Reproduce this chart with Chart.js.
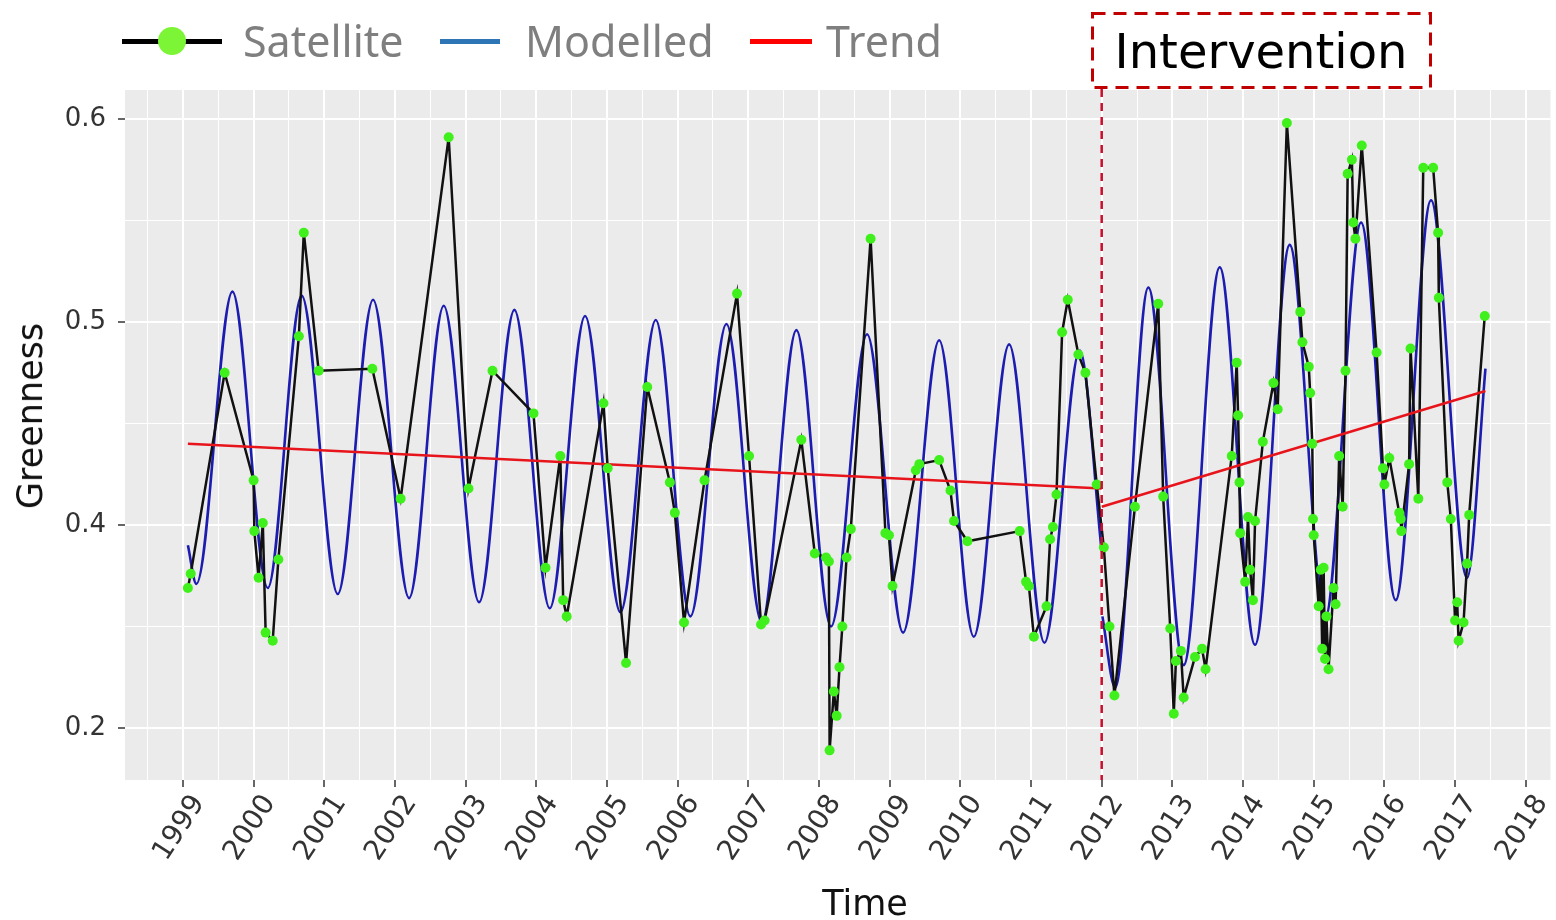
<!DOCTYPE html>
<html>
<head>
<meta charset="utf-8">
<title>Greenness</title>
<script src="https://cdn.jsdelivr.net/npm/chart.js@4.4.1/dist/chart.umd.min.js"></script>
<style>
  body { margin: 0; background: #fff; }
  #wrap { position: relative; width: 1556px; height: 920px; }
  #wrap canvas { position: absolute; left: 0; top: 0; }
  .sym { position: absolute; height: 5px; }
  .dot { position: absolute; width: 28px; height: 28px; border-radius: 50%; background: #7cf536; }
  .lbl { position: absolute; top: 14px; line-height: 54px; font-family: "Noto Sans", sans-serif; font-size: 43px; color: #7f7f7f; }
  #intervention {
    position: absolute; left: 1091px; top: 12px; width: 340px; height: 76px;
    font-family: "DejaVu Sans", sans-serif; font-size: 48px;
    color: #000; text-align: center; line-height: 78px;
  }
  .axt { position: absolute; font-family: "DejaVu Sans", sans-serif; font-size: 35px; color: #111; white-space: nowrap; }
</style>
</head>
<body>
<div id="wrap">
  <canvas id="chart" width="1556" height="920"></canvas>
  <div class="sym" style="left:122px; top:39px; width:100px; background:#000;"></div>
  <div class="dot" style="left:158px; top:27px;"></div>
  <div class="lbl" style="left:243px;">Satellite</div>
  <div class="sym" style="left:440px; top:39px; width:60px; background:#2e75b6;"></div>
  <div class="lbl" style="left:525px;">Modelled</div>
  <div class="sym" style="left:750px; top:39px; width:62px; background:#ff0000;"></div>
  <div class="lbl" style="left:826px;">Trend</div>
  <div id="intervention">Intervention</div>
  <div class="axt" style="left:865px; top:903px; transform: translate(-50%, -50%);">Time</div>
  <div class="axt" style="left:30px; top:416px; transform: translate(-50%, -50%) rotate(-90deg);">Greenness</div>
</div>
<script>
// satellite observations (time in decimal years)
const satYears = [
  1999.07, 1999.11, 1999.59, 2000.00, 2000.01, 2000.07, 2000.13, 2000.17, 2000.27, 2000.35,
  2000.64, 2000.71, 2000.92, 2001.68, 2002.08, 2002.76, 2003.04, 2003.38, 2003.96, 2004.13,
  2004.34, 2004.38, 2004.43, 2004.95, 2005.01, 2005.27, 2005.57, 2005.89, 2005.96, 2006.09,
  2006.38, 2006.84, 2007.01, 2007.18, 2007.23, 2007.75, 2007.94, 2008.10, 2008.14, 2008.15,
  2008.21, 2008.25, 2008.29, 2008.33, 2008.39, 2008.45, 2008.73, 2008.94, 2008.99, 2009.04,
  2009.37, 2009.42, 2009.70, 2009.86, 2009.91, 2010.10, 2010.84, 2010.93, 2010.97, 2011.04,
  2011.22, 2011.27, 2011.31, 2011.36, 2011.44, 2011.52, 2011.67, 2011.77, 2011.93, 2012.03,
  2012.11, 2012.18, 2012.47, 2012.80, 2012.87, 2012.97, 2013.02, 2013.05, 2013.12, 2013.16,
  2013.32, 2013.42, 2013.47, 2013.84, 2013.91, 2013.93, 2013.95, 2013.96, 2014.03, 2014.07,
  2014.10, 2014.14, 2014.17, 2014.28, 2014.43, 2014.49, 2014.62, 2014.81, 2014.84, 2014.93,
  2014.95, 2014.98, 2014.99, 2015.00, 2015.07, 2015.10, 2015.12, 2015.14, 2015.16, 2015.18,
  2015.21, 2015.28, 2015.31, 2015.36, 2015.41, 2015.45, 2015.48, 2015.54, 2015.56, 2015.59,
  2015.68, 2015.89, 2015.98, 2016.00, 2016.07, 2016.21, 2016.23, 2016.24, 2016.35, 2016.37,
  2016.48, 2016.55, 2016.69, 2016.76, 2016.77, 2016.89, 2016.94, 2017.00, 2017.03, 2017.05,
  2017.12, 2017.17, 2017.20, 2017.42
];
const satValues = [
  0.369, 0.376, 0.475, 0.422, 0.397, 0.374, 0.401, 0.347, 0.343, 0.383,
  0.493, 0.544, 0.476, 0.477, 0.413, 0.591, 0.418, 0.476, 0.455, 0.379,
  0.434, 0.363, 0.355, 0.460, 0.428, 0.332, 0.468, 0.421, 0.406, 0.352,
  0.422, 0.514, 0.434, 0.351, 0.353, 0.442, 0.386, 0.384, 0.382, 0.289,
  0.318, 0.306, 0.330, 0.350, 0.384, 0.398, 0.541, 0.396, 0.395, 0.370,
  0.427, 0.430, 0.432, 0.417, 0.402, 0.392, 0.397, 0.372, 0.370, 0.345,
  0.360, 0.393, 0.399, 0.415, 0.495, 0.511, 0.484, 0.475, 0.420, 0.389,
  0.350, 0.316, 0.409, 0.509, 0.414, 0.349, 0.307, 0.333, 0.338, 0.315,
  0.335, 0.339, 0.329, 0.434, 0.480, 0.454, 0.421, 0.396, 0.372, 0.404,
  0.378, 0.363, 0.402, 0.441, 0.470, 0.457, 0.598, 0.505, 0.490, 0.478,
  0.465, 0.440, 0.403, 0.395, 0.360, 0.378, 0.339, 0.379, 0.334, 0.355,
  0.329, 0.369, 0.361, 0.434, 0.409, 0.476, 0.573, 0.580, 0.549, 0.541,
  0.587, 0.485, 0.428, 0.420, 0.433, 0.406, 0.403, 0.397, 0.430, 0.487,
  0.413, 0.576, 0.576, 0.544, 0.512, 0.421, 0.403, 0.353, 0.362, 0.343,
  0.352, 0.381, 0.405, 0.503
];

// modelled curve, read at its turning points
const modelPreYears = [
  1999.07, 1999.19, 1999.70, 2000.20, 2000.68, 2001.19, 2001.69, 2002.20, 2002.69, 2003.19,
  2003.69, 2004.19, 2004.69, 2005.19, 2005.69, 2006.18, 2006.69, 2007.19, 2007.68, 2008.17,
  2008.68, 2009.19, 2009.70, 2010.19, 2010.69, 2011.19, 2011.69, 2012.00
];
const modelPreValues = [
  0.390, 0.371, 0.515, 0.369, 0.513, 0.366, 0.511, 0.364, 0.508, 0.362,
  0.506, 0.359, 0.503, 0.357, 0.501, 0.355, 0.499, 0.352, 0.496, 0.350,
  0.494, 0.347, 0.491, 0.345, 0.489, 0.342, 0.486, 0.387
];
const modelPostYears = [2012.01, 2012.19, 2012.66, 2013.16, 2013.67, 2014.17, 2014.66, 2015.16, 2015.67, 2016.16, 2016.66, 2017.17, 2017.43];
const modelPostValues = [0.355, 0.320, 0.517, 0.331, 0.527, 0.341, 0.538, 0.354, 0.549, 0.363, 0.560, 0.374, 0.477];

const trendPreYears = [1999.07, 2012.00];
const trendPreValues = [0.440, 0.418];
const trendPostYears = [2012.00, 2017.43];
const trendPostValues = [0.409, 0.466];

const interventionYear = 2012;
const yearLabels = [1999, 2000, 2001, 2002, 2003, 2004, 2005, 2006, 2007, 2008, 2009,
  2010, 2011, 2012, 2013, 2014, 2015, 2016, 2017, 2018];
// gridline positions and the labels printed on them in the original
const yTickValues = [0.3, 0.4, 0.5, 0.6];
const yTickLabels = ['0.2', '0.4', '0.5', '0.6'];

const zip = (xs, ys) => xs.map((x, i) => ({ x: x, y: ys[i] }));

const panelBg = {
  id: 'panelBg',
  beforeDraw(chart) {
    const { ctx, chartArea: a } = chart;
    ctx.save();
    ctx.fillStyle = '#ebebeb';
    ctx.fillRect(a.left, a.top, a.right - a.left, a.bottom - a.top);
    ctx.restore();
  }
};

// dashed box round the label and the dashed line down to the axis
const interventionLine = {
  id: 'interventionLine',
  afterDatasetsDraw(chart) {
    const { ctx, chartArea: a } = chart;
    const x = chart.scales.x.getPixelForValue(interventionYear);
    ctx.save();
    ctx.strokeStyle = '#c00000';
    ctx.lineWidth = 3;
    ctx.setLineDash([13, 8]);
    ctx.strokeRect(1092.5, 13.5, 338, 74);
    ctx.strokeStyle = '#c8102e';
    ctx.lineWidth = 2.5;
    ctx.setLineDash([8, 6]);
    ctx.beginPath();
    ctx.moveTo(x, 89);
    ctx.lineTo(x, a.bottom);
    ctx.stroke();
    ctx.restore();
  }
};

new Chart(document.getElementById('chart'), {
  type: 'line',
  data: {
    datasets: [
      {
        label: 'Satellite points',
        data: zip(satYears, satValues),
        showLine: false,
        pointRadius: 5,
        pointBackgroundColor: '#40f01c',
        pointBorderWidth: 0,
        order: 0
      },
      {
        label: 'Trend',
        data: zip(trendPreYears, trendPreValues),
        borderColor: '#e8141c',
        borderWidth: 2.5,
        pointRadius: 0,
        order: 1
      },
      {
        label: 'Trend post',
        data: zip(trendPostYears, trendPostValues),
        borderColor: '#e8141c',
        borderWidth: 2.5,
        pointRadius: 0,
        order: 1
      },
      {
        label: 'Satellite',
        data: zip(satYears, satValues),
        borderColor: '#111',
        borderWidth: 2.5,
        pointRadius: 0,
        order: 2
      },
      {
        label: 'Modelled',
        data: zip(modelPreYears, modelPreValues),
        borderColor: '#1c1cb0',
        borderWidth: 2.6,
        pointRadius: 0,
        cubicInterpolationMode: 'monotone',
        order: 3
      },
      {
        label: 'Modelled post',
        data: zip(modelPostYears, modelPostValues),
        borderColor: '#1c1cb0',
        borderWidth: 2.6,
        pointRadius: 0,
        cubicInterpolationMode: 'monotone',
        order: 3
      }
    ]
  },
  options: {
    responsive: false,
    animation: false,
    layout: { padding: { top: 90, right: 1, left: 0, bottom: 0 } },
    plugins: {
      legend: { display: false },
      tooltip: { enabled: false }
    },
    scales: {
      x: {
        type: 'linear',
        min: 1998.18,
        max: 2018.35,
        afterFit: (s) => { s.height = 140; },
        afterBuildTicks: (s) => {
          const t = [];
          for (let k = 0; k <= 39; k++) t.push({ value: 1998.5 + k * 0.5 });
          s.ticks = t;
        },
        border: { display: false },
        grid: {
          color: '#ffffff',
          lineWidth: (c) => (yearLabels.includes(c.tick && c.tick.value) ? 2 : 1),
          tickLength: 7,
          tickWidth: 1.5,
          tickColor: (c) => (yearLabels.includes(c.tick && c.tick.value) ? '#333' : 'rgba(0,0,0,0)')
        },
        ticks: {
          autoSkip: false,
          minRotation: 57,
          maxRotation: 57,
          padding: 2,
          labelOffset: 16,
          color: '#333',
          font: { family: 'DejaVu Sans', size: 28 },
          callback: (v) => (yearLabels.includes(v) ? String(v) : '')
        },
        title: { display: false }
      },
      y: {
        type: 'linear',
        min: 0.2744,
        max: 0.6143,
        afterFit: (s) => { s.width = 125; },
        afterBuildTicks: (s) => {
          const t = [];
          yTickValues.forEach((v, i) => {
            t.push({ value: v, major: true });
            if (i < yTickValues.length - 1) t.push({ value: (v + yTickValues[i + 1]) / 2, major: false });
          });
          s.ticks = t;
        },
        border: { display: false },
        grid: {
          color: '#ffffff',
          lineWidth: (c) => (c.tick && c.tick.major ? 2 : 1),
          tickLength: 7,
          tickWidth: 1.5,
          tickColor: (c) => (c.tick && c.tick.major ? '#333' : 'rgba(0,0,0,0)')
        },
        ticks: {
          padding: 12,
          color: '#333',
          font: { family: 'DejaVu Sans', size: 26 },
          callback: (v) => {
            const i = yTickValues.indexOf(v);
            return i >= 0 ? yTickLabels[i] : '';
          }
        },
        title: { display: false }
      }
    }
  },
  plugins: [panelBg, interventionLine]
});
</script>
</body>
</html>
